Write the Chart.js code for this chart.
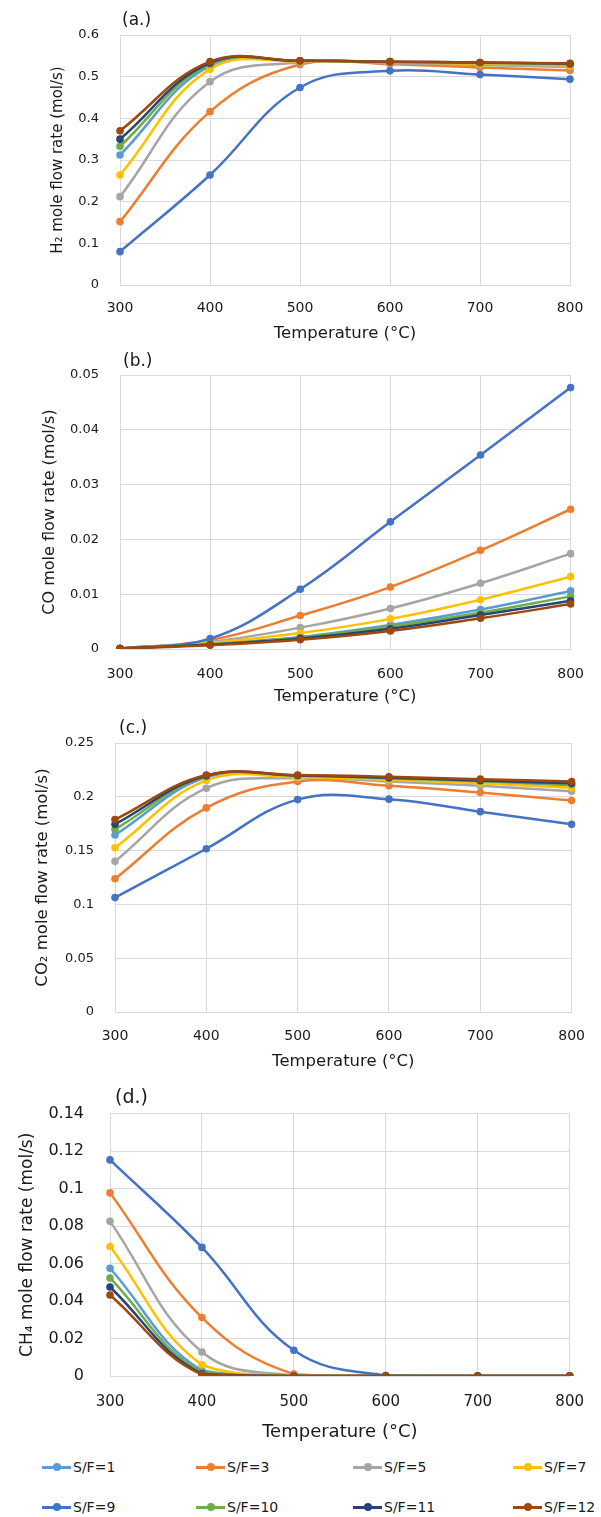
<!DOCTYPE html>
<html lang="en">
<head>
    <meta charset="UTF-8">
    <title>Mole flow rates vs temperature</title>
    <style>
        body { margin: 0; background: #fff; width: 601px; height: 1517px; position: relative; overflow: hidden; font-family: "DejaVu Sans", sans-serif; }
        .panel { position: absolute; left: 0; width: 601px; }
        .legend { position: absolute; left: 0; top: 1448px; width: 601px; height: 69px; }
        .item { position: absolute; font-size: 14px; color: #1a1a1a; line-height: 16px; white-space: nowrap; }
        .mark { display: inline-block; position: relative; width: 29px; height: 16px; vertical-align: top; margin-right: 2px; }
        .mark i { position: absolute; left: 0; right: 0; top: 7px; height: 3px; }
        .mark b { position: absolute; left: 11px; top: 4px; width: 8px; height: 8px; border-radius: 50%; }
    </style>
</head>
<body>
    <div class="panel" style="top:0;height:345px"><canvas id="chartH2"></canvas></div>
    <div class="panel" style="top:345px;height:367px"><canvas id="chartCO"></canvas></div>
    <div class="panel" style="top:712px;height:366px"><canvas id="chartCO2"></canvas></div>
    <div class="panel" style="top:1078px;height:370px"><canvas id="chartCH4"></canvas></div>
    <div class="legend" id="legend"></div>

    <script src="https://cdn.jsdelivr.net/npm/chart.js"></script>
    <script>
        // Temperatures (°C)
        const temperatures = ["300", "400", "500", "600", "700", "800"];
        const seriesNames = ["S/F=1", "S/F=3", "S/F=5", "S/F=7", "S/F=9", "S/F=10", "S/F=11", "S/F=12"];
        const seriesColors = ["#5B9BD5", "#ED7D31", "#A5A5A5", "#FFC000", "#4472C4", "#70AD47", "#264478", "#9E480E"];

        // H2 (mol/s), same order as seriesNames
        const h2Values = [
            [0.312, 0.526, 0.538, 0.535, 0.532, 0.529],
            [0.152, 0.416, 0.529, 0.530, 0.522, 0.515],
            [0.212, 0.488, 0.534, 0.532, 0.528, 0.523],
            [0.264, 0.518, 0.537, 0.534, 0.531, 0.527],
            [0.080, 0.264, 0.474, 0.514, 0.505, 0.494],
            [0.333, 0.530, 0.538, 0.535, 0.533, 0.530],
            [0.350, 0.533, 0.538, 0.536, 0.534, 0.531],
            [0.370, 0.536, 0.538, 0.536, 0.534, 0.532]
        ];

        // CO (mol/s)
        const coValues = [
            [0.0001, 0.0009, 0.0022, 0.0044, 0.0072, 0.0106],
            [0.0001, 0.0016, 0.0061, 0.0113, 0.0180, 0.0255],
            [0.0001, 0.0013, 0.0039, 0.0074, 0.0120, 0.0174],
            [0.0001, 0.0011, 0.0029, 0.0055, 0.0090, 0.0132],
            [0.0001, 0.0019, 0.0109, 0.0232, 0.0354, 0.0477],
            [0.0001, 0.0009, 0.0021, 0.0041, 0.0066, 0.0096],
            [0.0001, 0.0008, 0.0019, 0.0037, 0.0062, 0.0088],
            [0.0001, 0.0007, 0.0017, 0.0033, 0.0056, 0.0082]
        ];

        // CO2 (mol/s)
        const co2Values = [
            [0.1645, 0.2180, 0.2190, 0.2165, 0.2138, 0.2105],
            [0.1238, 0.1897, 0.2142, 0.2102, 0.2040, 0.1965],
            [0.1400, 0.2080, 0.2173, 0.2142, 0.2102, 0.2052],
            [0.1527, 0.2152, 0.2182, 0.2158, 0.2125, 0.2083],
            [0.1063, 0.1517, 0.1974, 0.1978, 0.1862, 0.1744],
            [0.1698, 0.2190, 0.2195, 0.2172, 0.2145, 0.2115],
            [0.1745, 0.2196, 0.2198, 0.2178, 0.2152, 0.2125],
            [0.1788, 0.2202, 0.2202, 0.2186, 0.2164, 0.2142]
        ];

        // CH4 (mol/s)
        const ch4Values = [
            [0.0575, 0.0030, 0, 0, 0, 0],
            [0.0977, 0.0312, 0.0010, 0, 0, 0],
            [0.0825, 0.0128, 0.0002, 0, 0, 0],
            [0.0691, 0.0060, 0, 0, 0, 0],
            [0.1153, 0.0686, 0.0137, 0.0003, 0, 0],
            [0.0523, 0.0020, 0, 0, 0, 0],
            [0.0475, 0.0012, 0, 0, 0, 0],
            [0.0432, 0.0008, 0, 0, 0, 0]
        ];

        const FONT = "DejaVu Sans";
        const TEXT = "#1a1a1a";
        const GRID = "#d9d9d9";

        // small plugin for the (a.) (b.) ... panel labels
        const panelLabel = {
            id: "panelLabel",
            afterDraw(chart, args, opts) {
                const ctx = chart.ctx;
                ctx.save();
                ctx.font = opts.size + "px " + FONT;
                ctx.fillStyle = TEXT;
                ctx.textBaseline = "middle";
                ctx.fillText(opts.text, chart.chartArea.left + opts.dx, chart.chartArea.top - opts.dy);
                ctx.restore();
            }
        };

        function makeChart(id, values, c) {
            return new Chart(document.getElementById(id), {
                type: "line",
                data: {
                    labels: temperatures,
                    datasets: values.map((v, i) => ({
                        label: seriesNames[i],
                        data: v,
                        borderColor: seriesColors[i],
                        backgroundColor: seriesColors[i],
                        pointBackgroundColor: seriesColors[i],
                        pointBorderWidth: 0,
                        pointRadius: 3.8,
                        borderWidth: 2.5,
                        tension: 0.4,
                        fill: false,
                        order: 7 - i
                    }))
                },
                options: {
                    responsive: true,
                    maintainAspectRatio: false,
                    animation: false,
                    layout: { padding: { top: c.top, right: c.right, left: 0, bottom: 0 } },
                    plugins: {
                        legend: { display: false },
                        tooltip: { enabled: false },
                        panelLabel: c.label
                    },
                    scales: {
                        x: {
                            type: "category",
                            offset: false,
                            grid: { color: GRID, drawTicks: false },
                            border: { color: GRID },
                            ticks: { color: TEXT, font: { family: FONT, size: c.xTick }, padding: c.xPad, maxRotation: 0 },
                            title: { display: true, text: "Temperature (°C)", color: TEXT, font: { family: FONT, size: c.xTitle }, padding: { top: 0, bottom: c.xTitlePad } },
                            afterFit: (s) => { s.height = c.xH; }
                        },
                        y: {
                            min: 0,
                            max: c.max,
                            grid: { color: GRID, drawTicks: false },
                            border: { color: GRID },
                            ticks: {
                                stepSize: c.step,
                                color: TEXT,
                                font: { family: FONT, size: c.yTick },
                                padding: c.yPad,
                                callback: (v) => String(Number(v.toFixed(4)))
                            },
                            title: { display: true, text: c.yTitleText, color: TEXT, font: { family: FONT, size: c.yTitle }, padding: { top: c.yTitlePad, bottom: 0 } },
                            afterFit: (s) => { s.width = c.yW; }
                        }
                    }
                },
                plugins: [panelLabel]
            });
        }

        makeChart("chartH2", h2Values, {
            top: 35, right: 31, xH: 60, yW: 120, max: 0.6, step: 0.1,
            xTick: 14, xPad: 15, xTitle: 16.5, xTitlePad: 1,
            yTick: 13, yPad: 21, yTitle: 15, yTitlePad: 49, yTitleText: "H\u2082 mole flow rate (mol/s)",
            label: { text: "(a.)", size: 17, dx: 2, dy: 14 }
        });

        makeChart("chartCO", coValues, {
            top: 30, right: 18, xH: 63, yW: 120, max: 0.05, step: 0.01,
            xTick: 14, xPad: 17, xTitle: 16.5, xTitlePad: 5,
            yTick: 13, yPad: 21, yTitle: 16, yTitlePad: 40, yTitleText: "CO mole flow rate (mol/s)",
            label: { text: "(b.)", size: 17, dx: 3, dy: 13 }
        });

        makeChart("chartCO2", co2Values, {
            top: 31, right: 16, xH: 66, yW: 115, max: 0.25, step: 0.05,
            xTick: 14, xPad: 16, xTitle: 16.5, xTitlePad: 6,
            yTick: 13, yPad: 21, yTitle: 16.5, yTitlePad: 33, yTitleText: "CO\u2082 mole flow rate (mol/s)",
            label: { text: "(c.)", size: 17, dx: 4, dy: 14 }
        });

        makeChart("chartCH4", ch4Values, {
            top: 31, right: 11, xH: 72, yW: 110, max: 0.14, step: 0.02,
            xTick: 15, xPad: 17, xTitle: 18, xTitlePad: 5,
            yTick: 16, yPad: 26, yTitle: 17, yTitlePad: 17, yTitleText: "CH\u2084 mole flow rate (mol/s)",
            label: { text: "(d.)", size: 19, dx: 5, dy: 16 }
        });

        // legend: two rows of four
        const legend = document.getElementById("legend");
        const colX = [42, 196, 353, 513];
        const rowY = [11, 51];
        seriesNames.forEach((name, i) => {
            const item = document.createElement("div");
            item.className = "item";
            item.style.left = colX[i % 4] + "px";
            item.style.top = rowY[Math.floor(i / 4)] + "px";
            item.innerHTML = '<span class="mark"><i style="background:' + seriesColors[i] + '"></i><b style="background:' + seriesColors[i] + '"></b></span>';
            item.appendChild(document.createTextNode(name));
            legend.appendChild(item);
        });
    </script>
</body>
</html>
